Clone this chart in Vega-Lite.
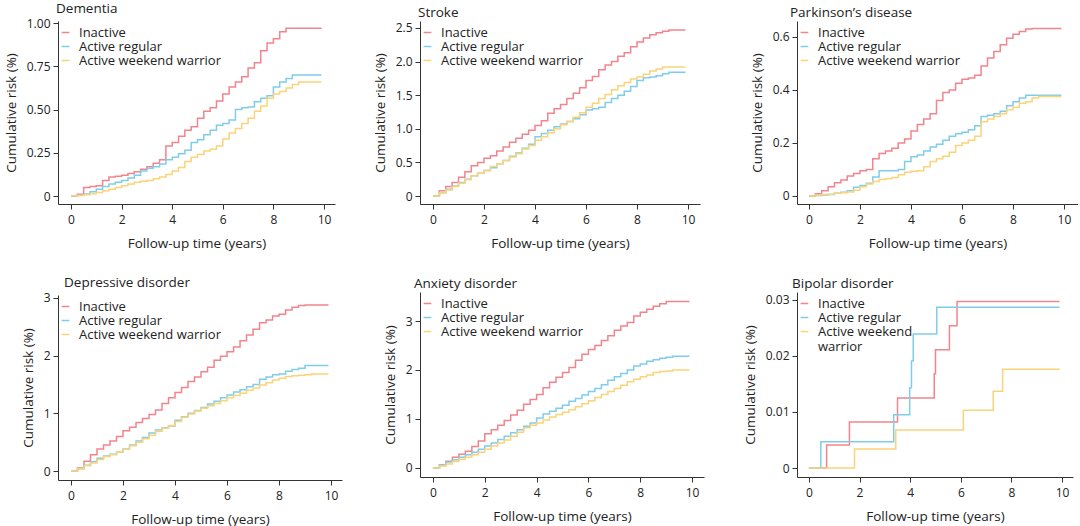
{
  "$schema": "https://vega.github.io/schema/vega-lite/v6.json",
  "padding": {"left": 4, "top": 1, "right": 0, "bottom": 0},
  "config": {
    "font": "Open Sans",
    "view": {"stroke": null},
    "axis": {"domainColor": "#333333", "tickColor": "#333333", "labelColor": "#222222", "titleColor": "#222222", "labelFontSize": 12, "titleFontSize": 13.5, "titleFontWeight": "normal", "grid": false, "tickSize": 5, "labelPadding": 3, "titlePadding": 8},
    "axisX": {"labelPadding": 5, "titlePadding": 11},
    "title": {"anchor": "start", "fontSize": 13.5, "fontWeight": "normal", "offset": 2, "frame": "group", "color": "#222222"},
    "legend": {"title": null, "orient": "none", "legendX": 1, "legendY": 5, "symbolType": "stroke", "symbolSize": 60, "symbolStrokeWidth": 1.6, "labelFontSize": 13, "labelColor": "#222222", "labelOffset": 7, "rowPadding": 0, "padding": 0},
    "line": {"interpolate": "step-after", "strokeWidth": 1.5}
  },
  "datasets": {
    "dementia": [
      {"t": 0, "Inactive": 0, "Active regular": 0, "Active weekend warrior": 0},
      {"t": 0.25, "Inactive": 0.01, "Active regular": 0.005, "Active weekend warrior": 0.003},
      {"t": 0.5, "Inactive": 0.05, "Active regular": 0.012, "Active weekend warrior": 0.008},
      {"t": 0.75, "Inactive": 0.055, "Active regular": 0.025, "Active weekend warrior": 0.013},
      {"t": 1.0, "Inactive": 0.06, "Active regular": 0.04, "Active weekend warrior": 0.02},
      {"t": 1.25, "Inactive": 0.09, "Active regular": 0.055, "Active weekend warrior": 0.03},
      {"t": 1.5, "Inactive": 0.11, "Active regular": 0.07, "Active weekend warrior": 0.04},
      {"t": 1.75, "Inactive": 0.115, "Active regular": 0.08, "Active weekend warrior": 0.05},
      {"t": 2.0, "Inactive": 0.12, "Active regular": 0.09, "Active weekend warrior": 0.06},
      {"t": 2.25, "Inactive": 0.13, "Active regular": 0.105, "Active weekend warrior": 0.07},
      {"t": 2.5, "Inactive": 0.14, "Active regular": 0.12, "Active weekend warrior": 0.08},
      {"t": 2.75, "Inactive": 0.155, "Active regular": 0.145, "Active weekend warrior": 0.085},
      {"t": 3.0, "Inactive": 0.17, "Active regular": 0.16, "Active weekend warrior": 0.09},
      {"t": 3.25, "Inactive": 0.19, "Active regular": 0.17, "Active weekend warrior": 0.1},
      {"t": 3.5, "Inactive": 0.21, "Active regular": 0.185, "Active weekend warrior": 0.11},
      {"t": 3.75, "Inactive": 0.29, "Active regular": 0.21, "Active weekend warrior": 0.125},
      {"t": 4.0, "Inactive": 0.31, "Active regular": 0.225, "Active weekend warrior": 0.145},
      {"t": 4.25, "Inactive": 0.345, "Active regular": 0.245, "Active weekend warrior": 0.165},
      {"t": 4.5, "Inactive": 0.38, "Active regular": 0.265, "Active weekend warrior": 0.2},
      {"t": 4.75, "Inactive": 0.4, "Active regular": 0.31, "Active weekend warrior": 0.225},
      {"t": 5.0, "Inactive": 0.45, "Active regular": 0.325, "Active weekend warrior": 0.24},
      {"t": 5.25, "Inactive": 0.49, "Active regular": 0.355, "Active weekend warrior": 0.26},
      {"t": 5.5, "Inactive": 0.51, "Active regular": 0.38, "Active weekend warrior": 0.27},
      {"t": 5.75, "Inactive": 0.55, "Active regular": 0.41, "Active weekend warrior": 0.29},
      {"t": 6.0, "Inactive": 0.59, "Active regular": 0.42, "Active weekend warrior": 0.33},
      {"t": 6.25, "Inactive": 0.63, "Active regular": 0.44, "Active weekend warrior": 0.365},
      {"t": 6.5, "Inactive": 0.66, "Active regular": 0.5, "Active weekend warrior": 0.39},
      {"t": 6.75, "Inactive": 0.69, "Active regular": 0.51, "Active weekend warrior": 0.42},
      {"t": 7.0, "Inactive": 0.74, "Active regular": 0.515, "Active weekend warrior": 0.45},
      {"t": 7.25, "Inactive": 0.77, "Active regular": 0.545, "Active weekend warrior": 0.49},
      {"t": 7.5, "Inactive": 0.84, "Active regular": 0.565, "Active weekend warrior": 0.52},
      {"t": 7.75, "Inactive": 0.885, "Active regular": 0.58, "Active weekend warrior": 0.565},
      {"t": 8.0, "Inactive": 0.91, "Active regular": 0.63, "Active weekend warrior": 0.59},
      {"t": 8.25, "Inactive": 0.95, "Active regular": 0.66, "Active weekend warrior": 0.605},
      {"t": 8.5, "Inactive": 0.97, "Active regular": 0.68, "Active weekend warrior": 0.625},
      {"t": 8.75, "Inactive": 0.97, "Active regular": 0.7, "Active weekend warrior": 0.645},
      {"t": 9.0, "Inactive": 0.97, "Active regular": 0.7, "Active weekend warrior": 0.66},
      {"t": 9.9, "Inactive": 0.97, "Active regular": 0.7, "Active weekend warrior": 0.66}
    ],
    "stroke": [
      {"t": 0, "Inactive": 0, "Active regular": 0, "Active weekend warrior": 0},
      {"t": 0.25, "Inactive": 0.08, "Active regular": 0.05, "Active weekend warrior": 0.05},
      {"t": 0.5, "Inactive": 0.14, "Active regular": 0.1, "Active weekend warrior": 0.09},
      {"t": 0.75, "Inactive": 0.2, "Active regular": 0.15, "Active weekend warrior": 0.14},
      {"t": 1.0, "Inactive": 0.28, "Active regular": 0.2, "Active weekend warrior": 0.19},
      {"t": 1.25, "Inactive": 0.36, "Active regular": 0.25, "Active weekend warrior": 0.24},
      {"t": 1.5, "Inactive": 0.45, "Active regular": 0.3, "Active weekend warrior": 0.3},
      {"t": 1.75, "Inactive": 0.5, "Active regular": 0.34, "Active weekend warrior": 0.34},
      {"t": 2.0, "Inactive": 0.56, "Active regular": 0.38, "Active weekend warrior": 0.38},
      {"t": 2.25, "Inactive": 0.6, "Active regular": 0.42, "Active weekend warrior": 0.44},
      {"t": 2.5, "Inactive": 0.67, "Active regular": 0.48, "Active weekend warrior": 0.48},
      {"t": 2.75, "Inactive": 0.73, "Active regular": 0.53, "Active weekend warrior": 0.53},
      {"t": 3.0, "Inactive": 0.8, "Active regular": 0.59, "Active weekend warrior": 0.58},
      {"t": 3.25, "Inactive": 0.86, "Active regular": 0.64, "Active weekend warrior": 0.63},
      {"t": 3.5, "Inactive": 0.92, "Active regular": 0.71, "Active weekend warrior": 0.7},
      {"t": 3.75, "Inactive": 0.98, "Active regular": 0.77, "Active weekend warrior": 0.75},
      {"t": 4.0, "Inactive": 1.05, "Active regular": 0.88, "Active weekend warrior": 0.83},
      {"t": 4.25, "Inactive": 1.12, "Active regular": 0.93, "Active weekend warrior": 0.88},
      {"t": 4.5, "Inactive": 1.23, "Active regular": 0.98, "Active weekend warrior": 0.94},
      {"t": 4.75, "Inactive": 1.3, "Active regular": 1.03, "Active weekend warrior": 1.0},
      {"t": 5.0, "Inactive": 1.36, "Active regular": 1.07, "Active weekend warrior": 1.06},
      {"t": 5.25, "Inactive": 1.45, "Active regular": 1.11, "Active weekend warrior": 1.11},
      {"t": 5.5, "Inactive": 1.53, "Active regular": 1.15, "Active weekend warrior": 1.17},
      {"t": 5.75, "Inactive": 1.61, "Active regular": 1.21, "Active weekend warrior": 1.24},
      {"t": 6.0, "Inactive": 1.72, "Active regular": 1.28, "Active weekend warrior": 1.32},
      {"t": 6.25, "Inactive": 1.78, "Active regular": 1.3, "Active weekend warrior": 1.38},
      {"t": 6.5, "Inactive": 1.88, "Active regular": 1.32, "Active weekend warrior": 1.45},
      {"t": 6.75, "Inactive": 1.95, "Active regular": 1.39, "Active weekend warrior": 1.51},
      {"t": 7.0, "Inactive": 2.0, "Active regular": 1.45, "Active weekend warrior": 1.58},
      {"t": 7.25, "Inactive": 2.08, "Active regular": 1.5, "Active weekend warrior": 1.64},
      {"t": 7.5, "Inactive": 2.13, "Active regular": 1.56, "Active weekend warrior": 1.69},
      {"t": 7.75, "Inactive": 2.22, "Active regular": 1.63, "Active weekend warrior": 1.74},
      {"t": 8.0, "Inactive": 2.29, "Active regular": 1.72, "Active weekend warrior": 1.77},
      {"t": 8.25, "Inactive": 2.35, "Active regular": 1.76, "Active weekend warrior": 1.81},
      {"t": 8.5, "Inactive": 2.4, "Active regular": 1.77, "Active weekend warrior": 1.86},
      {"t": 8.75, "Inactive": 2.43, "Active regular": 1.79, "Active weekend warrior": 1.89},
      {"t": 9.0, "Inactive": 2.45, "Active regular": 1.82, "Active weekend warrior": 1.92},
      {"t": 9.25, "Inactive": 2.47, "Active regular": 1.84, "Active weekend warrior": 1.92},
      {"t": 9.9, "Inactive": 2.47, "Active regular": 1.84, "Active weekend warrior": 1.92}
    ],
    "parkinson": [
      {"t": 0, "Inactive": 0, "Active regular": 0, "Active weekend warrior": 0},
      {"t": 0.25, "Inactive": 0.008, "Active regular": 0.002, "Active weekend warrior": 0.004},
      {"t": 0.5, "Inactive": 0.02, "Active regular": 0.004, "Active weekend warrior": 0.006},
      {"t": 0.75, "Inactive": 0.035, "Active regular": 0.006, "Active weekend warrior": 0.007},
      {"t": 1.0, "Inactive": 0.05, "Active regular": 0.01, "Active weekend warrior": 0.01},
      {"t": 1.25, "Inactive": 0.06, "Active regular": 0.014, "Active weekend warrior": 0.012},
      {"t": 1.5, "Inactive": 0.075, "Active regular": 0.02, "Active weekend warrior": 0.015},
      {"t": 1.75, "Inactive": 0.085, "Active regular": 0.033, "Active weekend warrior": 0.022},
      {"t": 2.0, "Inactive": 0.095, "Active regular": 0.04, "Active weekend warrior": 0.035},
      {"t": 2.25, "Inactive": 0.1, "Active regular": 0.048, "Active weekend warrior": 0.045},
      {"t": 2.5, "Inactive": 0.14, "Active regular": 0.072, "Active weekend warrior": 0.055},
      {"t": 2.75, "Inactive": 0.16, "Active regular": 0.095, "Active weekend warrior": 0.062},
      {"t": 3.0, "Inactive": 0.17, "Active regular": 0.095, "Active weekend warrior": 0.065},
      {"t": 3.25, "Inactive": 0.18, "Active regular": 0.095, "Active weekend warrior": 0.07},
      {"t": 3.5, "Inactive": 0.2, "Active regular": 0.1, "Active weekend warrior": 0.08},
      {"t": 3.75, "Inactive": 0.215, "Active regular": 0.13, "Active weekend warrior": 0.09},
      {"t": 4.0, "Inactive": 0.245, "Active regular": 0.148, "Active weekend warrior": 0.093},
      {"t": 4.25, "Inactive": 0.27, "Active regular": 0.155, "Active weekend warrior": 0.095},
      {"t": 4.5, "Inactive": 0.29, "Active regular": 0.17, "Active weekend warrior": 0.11},
      {"t": 4.75, "Inactive": 0.31, "Active regular": 0.185, "Active weekend warrior": 0.13},
      {"t": 5.0, "Inactive": 0.36, "Active regular": 0.195, "Active weekend warrior": 0.14},
      {"t": 5.25, "Inactive": 0.39, "Active regular": 0.21, "Active weekend warrior": 0.15},
      {"t": 5.5, "Inactive": 0.4, "Active regular": 0.225, "Active weekend warrior": 0.165},
      {"t": 5.75, "Inactive": 0.425, "Active regular": 0.235, "Active weekend warrior": 0.19},
      {"t": 6.0, "Inactive": 0.44, "Active regular": 0.24, "Active weekend warrior": 0.2},
      {"t": 6.25, "Inactive": 0.445, "Active regular": 0.25, "Active weekend warrior": 0.21},
      {"t": 6.5, "Inactive": 0.455, "Active regular": 0.265, "Active weekend warrior": 0.225},
      {"t": 6.75, "Inactive": 0.49, "Active regular": 0.3, "Active weekend warrior": 0.28},
      {"t": 7.0, "Inactive": 0.52, "Active regular": 0.305, "Active weekend warrior": 0.29},
      {"t": 7.25, "Inactive": 0.545, "Active regular": 0.31, "Active weekend warrior": 0.3},
      {"t": 7.5, "Inactive": 0.57, "Active regular": 0.32, "Active weekend warrior": 0.31},
      {"t": 7.75, "Inactive": 0.595, "Active regular": 0.34, "Active weekend warrior": 0.325},
      {"t": 8.0, "Inactive": 0.61, "Active regular": 0.355, "Active weekend warrior": 0.335},
      {"t": 8.25, "Inactive": 0.62, "Active regular": 0.37, "Active weekend warrior": 0.35},
      {"t": 8.5, "Inactive": 0.63, "Active regular": 0.38, "Active weekend warrior": 0.355},
      {"t": 8.75, "Inactive": 0.632, "Active regular": 0.38, "Active weekend warrior": 0.37},
      {"t": 9.0, "Inactive": 0.632, "Active regular": 0.38, "Active weekend warrior": 0.375},
      {"t": 9.9, "Inactive": 0.632, "Active regular": 0.38, "Active weekend warrior": 0.375}
    ],
    "depressive": [
      {"t": 0, "Inactive": 0, "Active regular": 0, "Active weekend warrior": 0},
      {"t": 0.25, "Inactive": 0.05, "Active regular": 0.04, "Active weekend warrior": 0.04},
      {"t": 0.5, "Inactive": 0.17, "Active regular": 0.1, "Active weekend warrior": 0.09},
      {"t": 0.75, "Inactive": 0.28, "Active regular": 0.16, "Active weekend warrior": 0.14},
      {"t": 1.0, "Inactive": 0.38, "Active regular": 0.22, "Active weekend warrior": 0.2},
      {"t": 1.25, "Inactive": 0.45, "Active regular": 0.26, "Active weekend warrior": 0.25},
      {"t": 1.5, "Inactive": 0.52, "Active regular": 0.29, "Active weekend warrior": 0.28},
      {"t": 1.75, "Inactive": 0.6, "Active regular": 0.33, "Active weekend warrior": 0.33},
      {"t": 2.0, "Inactive": 0.7, "Active regular": 0.38, "Active weekend warrior": 0.38},
      {"t": 2.25, "Inactive": 0.76, "Active regular": 0.45, "Active weekend warrior": 0.44},
      {"t": 2.5, "Inactive": 0.84, "Active regular": 0.52, "Active weekend warrior": 0.5},
      {"t": 2.75, "Inactive": 0.91, "Active regular": 0.58, "Active weekend warrior": 0.56},
      {"t": 3.0, "Inactive": 0.98, "Active regular": 0.66, "Active weekend warrior": 0.62},
      {"t": 3.25, "Inactive": 1.06, "Active regular": 0.71, "Active weekend warrior": 0.69},
      {"t": 3.5, "Inactive": 1.17, "Active regular": 0.75, "Active weekend warrior": 0.74},
      {"t": 3.75, "Inactive": 1.27, "Active regular": 0.78, "Active weekend warrior": 0.79},
      {"t": 4.0, "Inactive": 1.36, "Active regular": 0.88, "Active weekend warrior": 0.86},
      {"t": 4.25, "Inactive": 1.45, "Active regular": 0.94, "Active weekend warrior": 0.93},
      {"t": 4.5, "Inactive": 1.55, "Active regular": 1.0, "Active weekend warrior": 0.99},
      {"t": 4.75, "Inactive": 1.63, "Active regular": 1.05, "Active weekend warrior": 1.04},
      {"t": 5.0, "Inactive": 1.72, "Active regular": 1.1, "Active weekend warrior": 1.09},
      {"t": 5.25, "Inactive": 1.8, "Active regular": 1.16, "Active weekend warrior": 1.13},
      {"t": 5.5, "Inactive": 1.92, "Active regular": 1.21, "Active weekend warrior": 1.17},
      {"t": 5.75, "Inactive": 1.99, "Active regular": 1.27, "Active weekend warrior": 1.22},
      {"t": 6.0, "Inactive": 2.07, "Active regular": 1.32, "Active weekend warrior": 1.27},
      {"t": 6.25, "Inactive": 2.15, "Active regular": 1.37, "Active weekend warrior": 1.31},
      {"t": 6.5, "Inactive": 2.26, "Active regular": 1.41, "Active weekend warrior": 1.35},
      {"t": 6.75, "Inactive": 2.36, "Active regular": 1.46, "Active weekend warrior": 1.4},
      {"t": 7.0, "Inactive": 2.46, "Active regular": 1.5, "Active weekend warrior": 1.44},
      {"t": 7.25, "Inactive": 2.57, "Active regular": 1.59, "Active weekend warrior": 1.49},
      {"t": 7.5, "Inactive": 2.62, "Active regular": 1.63, "Active weekend warrior": 1.53},
      {"t": 7.75, "Inactive": 2.69, "Active regular": 1.67, "Active weekend warrior": 1.58},
      {"t": 8.0, "Inactive": 2.72, "Active regular": 1.68, "Active weekend warrior": 1.61},
      {"t": 8.25, "Inactive": 2.79, "Active regular": 1.73, "Active weekend warrior": 1.64},
      {"t": 8.5, "Inactive": 2.84, "Active regular": 1.76, "Active weekend warrior": 1.65},
      {"t": 8.75, "Inactive": 2.87, "Active regular": 1.78, "Active weekend warrior": 1.66},
      {"t": 9.0, "Inactive": 2.88, "Active regular": 1.83, "Active weekend warrior": 1.67},
      {"t": 9.25, "Inactive": 2.88, "Active regular": 1.83, "Active weekend warrior": 1.68},
      {"t": 9.9, "Inactive": 2.88, "Active regular": 1.83, "Active weekend warrior": 1.68}
    ],
    "anxiety": [
      {"t": 0, "Inactive": 0, "Active regular": 0, "Active weekend warrior": 0},
      {"t": 0.25, "Inactive": 0.06, "Active regular": 0.06, "Active weekend warrior": 0.04},
      {"t": 0.5, "Inactive": 0.14, "Active regular": 0.12, "Active weekend warrior": 0.08},
      {"t": 0.75, "Inactive": 0.22, "Active regular": 0.17, "Active weekend warrior": 0.13},
      {"t": 1.0, "Inactive": 0.28, "Active regular": 0.22, "Active weekend warrior": 0.18},
      {"t": 1.25, "Inactive": 0.34, "Active regular": 0.27, "Active weekend warrior": 0.22},
      {"t": 1.5, "Inactive": 0.44, "Active regular": 0.32, "Active weekend warrior": 0.27},
      {"t": 1.75, "Inactive": 0.55, "Active regular": 0.38, "Active weekend warrior": 0.32},
      {"t": 2.0, "Inactive": 0.7, "Active regular": 0.45, "Active weekend warrior": 0.38},
      {"t": 2.25, "Inactive": 0.78, "Active regular": 0.51, "Active weekend warrior": 0.45},
      {"t": 2.5, "Inactive": 0.87, "Active regular": 0.58, "Active weekend warrior": 0.51},
      {"t": 2.75, "Inactive": 0.97, "Active regular": 0.65, "Active weekend warrior": 0.57},
      {"t": 3.0, "Inactive": 1.08, "Active regular": 0.72, "Active weekend warrior": 0.65},
      {"t": 3.25, "Inactive": 1.18, "Active regular": 0.78, "Active weekend warrior": 0.73},
      {"t": 3.5, "Inactive": 1.3, "Active regular": 0.85, "Active weekend warrior": 0.82},
      {"t": 3.75, "Inactive": 1.4, "Active regular": 0.92, "Active weekend warrior": 0.87},
      {"t": 4.0, "Inactive": 1.5, "Active regular": 1.02, "Active weekend warrior": 0.92},
      {"t": 4.25, "Inactive": 1.64, "Active regular": 1.1, "Active weekend warrior": 0.98},
      {"t": 4.5, "Inactive": 1.75, "Active regular": 1.16, "Active weekend warrior": 1.04},
      {"t": 4.75, "Inactive": 1.85, "Active regular": 1.22, "Active weekend warrior": 1.09},
      {"t": 5.0, "Inactive": 1.95, "Active regular": 1.28, "Active weekend warrior": 1.14},
      {"t": 5.25, "Inactive": 2.05, "Active regular": 1.36, "Active weekend warrior": 1.19},
      {"t": 5.5, "Inactive": 2.2, "Active regular": 1.42, "Active weekend warrior": 1.25},
      {"t": 5.75, "Inactive": 2.32, "Active regular": 1.49, "Active weekend warrior": 1.31},
      {"t": 6.0, "Inactive": 2.42, "Active regular": 1.56, "Active weekend warrior": 1.37},
      {"t": 6.25, "Inactive": 2.5, "Active regular": 1.62, "Active weekend warrior": 1.44},
      {"t": 6.5, "Inactive": 2.6, "Active regular": 1.7, "Active weekend warrior": 1.5},
      {"t": 6.75, "Inactive": 2.7, "Active regular": 1.79, "Active weekend warrior": 1.56},
      {"t": 7.0, "Inactive": 2.81, "Active regular": 1.86, "Active weekend warrior": 1.62},
      {"t": 7.25, "Inactive": 2.9, "Active regular": 1.93, "Active weekend warrior": 1.69},
      {"t": 7.5, "Inactive": 2.97, "Active regular": 2.0, "Active weekend warrior": 1.76},
      {"t": 7.75, "Inactive": 3.1, "Active regular": 2.08, "Active weekend warrior": 1.81},
      {"t": 8.0, "Inactive": 3.18, "Active regular": 2.12, "Active weekend warrior": 1.86},
      {"t": 8.25, "Inactive": 3.24, "Active regular": 2.18, "Active weekend warrior": 1.9},
      {"t": 8.5, "Inactive": 3.3, "Active regular": 2.21, "Active weekend warrior": 1.95},
      {"t": 8.75, "Inactive": 3.35, "Active regular": 2.24, "Active weekend warrior": 1.97},
      {"t": 9.0, "Inactive": 3.4, "Active regular": 2.26, "Active weekend warrior": 1.98},
      {"t": 9.25, "Inactive": 3.4, "Active regular": 2.28, "Active weekend warrior": 2.0},
      {"t": 9.9, "Inactive": 3.4, "Active regular": 2.28, "Active weekend warrior": 2.0}
    ],
    "bipolar": [
      {"group": "Inactive", "t": 0, "risk": 0},
      {"group": "Inactive", "t": 0.7, "risk": 0.0041},
      {"group": "Inactive", "t": 1.6, "risk": 0.0082},
      {"group": "Inactive", "t": 3.5, "risk": 0.0125},
      {"group": "Inactive", "t": 4.95, "risk": 0.0168},
      {"group": "Inactive", "t": 5.0, "risk": 0.0211},
      {"group": "Inactive", "t": 5.55, "risk": 0.0254},
      {"group": "Inactive", "t": 5.85, "risk": 0.0297},
      {"group": "Inactive", "t": 9.9, "risk": 0.0297},
      {"group": "Active regular", "t": 0, "risk": 0},
      {"group": "Active regular", "t": 0.47, "risk": 0.0047},
      {"group": "Active regular", "t": 3.35, "risk": 0.0095},
      {"group": "Active regular", "t": 3.98, "risk": 0.0143},
      {"group": "Active regular", "t": 4.05, "risk": 0.0191},
      {"group": "Active regular", "t": 4.12, "risk": 0.0239},
      {"group": "Active regular", "t": 5.05, "risk": 0.0287},
      {"group": "Active regular", "t": 9.9, "risk": 0.0287},
      {"group": "Active weekend warrior", "t": 0, "risk": 0},
      {"group": "Active weekend warrior", "t": 1.8, "risk": 0.0034},
      {"group": "Active weekend warrior", "t": 3.43, "risk": 0.0068},
      {"group": "Active weekend warrior", "t": 6.1, "risk": 0.0103},
      {"group": "Active weekend warrior", "t": 7.28, "risk": 0.0137},
      {"group": "Active weekend warrior", "t": 7.65, "risk": 0.0176},
      {"group": "Active weekend warrior", "t": 9.9, "risk": 0.0176}
    ]
  },
  "resolve": {"scale": {"x": "independent", "y": "independent"}, "legend": {"color": "independent"}},
  "spacing": 39,
  "hconcat": [
    {
      "resolve": {"scale": {"x": "independent", "y": "independent"}, "legend": {"color": "independent"}},
      "spacing": 31,
      "hconcat": [
        {
          "resolve": {"scale": {"x": "independent", "y": "independent"}, "legend": {"color": "independent"}},
          "spacing": 26,
          "vconcat": [
            {
              "title": {"text": "Dementia", "dx": -2},
              "width": 277, "height": 183,
              "data": {"name": "dementia"},
              "transform": [{"fold": ["Inactive", "Active regular", "Active weekend warrior"], "as": ["group", "risk"]}],
              "mark": {"type": "line"},
              "encoding": {
                "x": {"field": "t", "type": "quantitative", "scale": {"domain": [-0.514, 10.435], "nice": false, "zero": false}, "axis": {"values": [0, 2, 4, 6, 8, 10], "title": "Follow-up time (years)"}},
                "y": {"field": "risk", "type": "quantitative", "scale": {"domain": [-0.046, 1.012], "nice": false, "zero": false}, "axis": {"values": [0, 0.25, 0.5, 0.75, 1], "labelExpr": "datum.value == 0 ? '0' : format(datum.value, '.2f')", "title": "Cumulative risk (%)"}},
                "color": {"field": "group", "type": "nominal", "sort": ["Inactive", "Active regular", "Active weekend warrior"], "scale": {"domain": ["Inactive", "Active regular", "Active weekend warrior"], "range": ["#f2848d", "#7fcdea", "#fad37a"]}, "legend": {}}
              }
            },
            {
              "title": {"text": "Depressive disorder", "dx": 6},
              "width": 284, "height": 185,
              "data": {"name": "depressive"},
              "transform": [{"fold": ["Inactive", "Active regular", "Active weekend warrior"], "as": ["group", "risk"]}],
              "mark": {"type": "line"},
              "encoding": {
                "x": {"field": "t", "type": "quantitative", "scale": {"domain": [-0.5, 10.42], "nice": false, "zero": false}, "axis": {"values": [0, 2, 4, 6, 8, 10], "title": "Follow-up time (years)"}},
                "y": {"field": "risk", "type": "quantitative", "scale": {"domain": [-0.156, 3.052], "nice": false, "zero": false}, "axis": {"values": [0, 1, 2, 3], "title": "Cumulative risk (%)"}},
                "color": {"field": "group", "type": "nominal", "sort": ["Inactive", "Active regular", "Active weekend warrior"], "scale": {"domain": ["Inactive", "Active regular", "Active weekend warrior"], "range": ["#f2848d", "#7fcdea", "#fad37a"]}, "legend": {}}
              }
            }
          ]
        },
        {
          "resolve": {"scale": {"x": "independent", "y": "independent"}, "legend": {"color": "independent"}},
          "spacing": 26,
          "vconcat": [
            {
              "title": {"text": "Stroke", "dx": -2},
              "width": 280, "height": 183,
              "data": {"name": "stroke"},
              "transform": [{"fold": ["Inactive", "Active regular", "Active weekend warrior"], "as": ["group", "risk"]}],
              "mark": {"type": "line"},
              "encoding": {
                "x": {"field": "t", "type": "quantitative", "scale": {"domain": [-0.51, 10.47], "nice": false, "zero": false}, "axis": {"values": [0, 2, 4, 6, 8, 10], "title": "Follow-up time (years)"}},
                "y": {"field": "risk", "type": "quantitative", "scale": {"domain": [-0.119, 2.604], "nice": false, "zero": false}, "axis": {"values": [0, 0.5, 1, 1.5, 2, 2.5], "labelExpr": "datum.value == 0 ? '0' : format(datum.value, '.1f')", "title": "Cumulative risk (%)"}},
                "color": {"field": "group", "type": "nominal", "sort": ["Inactive", "Active regular", "Active weekend warrior"], "scale": {"domain": ["Inactive", "Active regular", "Active weekend warrior"], "range": ["#f2848d", "#7fcdea", "#fad37a"]}, "legend": {}}
              }
            },
            {
              "title": {"text": "Anxiety disorder", "dx": -6},
              "width": 284, "height": 185,
              "data": {"name": "anxiety"},
              "transform": [{"fold": ["Inactive", "Active regular", "Active weekend warrior"], "as": ["group", "risk"]}],
              "mark": {"type": "line"},
              "encoding": {
                "x": {"field": "t", "type": "quantitative", "scale": {"domain": [-0.5, 10.46], "nice": false, "zero": false}, "axis": {"values": [0, 2, 4, 6, 8, 10], "title": "Follow-up time (years)"}},
                "y": {"field": "risk", "type": "quantitative", "scale": {"domain": [-0.184, 3.592], "nice": false, "zero": false}, "axis": {"values": [0, 1, 2, 3], "title": "Cumulative risk (%)"}},
                "color": {"field": "group", "type": "nominal", "sort": ["Inactive", "Active regular", "Active weekend warrior"], "scale": {"domain": ["Inactive", "Active regular", "Active weekend warrior"], "range": ["#f2848d", "#7fcdea", "#fad37a"]}, "legend": {}}
              }
            }
          ]
        }
      ]
    },
    {
      "resolve": {"scale": {"x": "independent", "y": "independent"}, "legend": {"color": "independent"}},
      "spacing": 26,
      "vconcat": [
        {
          "title": {"text": "Parkinson’s disease", "dx": -7},
          "width": 281, "height": 183,
          "data": {"name": "parkinson"},
          "transform": [{"fold": ["Inactive", "Active regular", "Active weekend warrior"], "as": ["group", "risk"]}],
          "mark": {"type": "line"},
          "encoding": {
            "x": {"field": "t", "type": "quantitative", "scale": {"domain": [-0.47, 10.55], "nice": false, "zero": false}, "axis": {"values": [0, 2, 4, 6, 8, 10], "title": "Follow-up time (years)"}},
            "y": {"field": "risk", "type": "quantitative", "scale": {"domain": [-0.0302, 0.66], "nice": false, "zero": false}, "axis": {"values": [0, 0.2, 0.4, 0.6], "labelExpr": "datum.value == 0 ? '0' : format(datum.value, '.1f')", "title": "Cumulative risk (%)"}},
            "color": {"field": "group", "type": "nominal", "sort": ["Inactive", "Active regular", "Active weekend warrior"], "scale": {"domain": ["Inactive", "Active regular", "Active weekend warrior"], "range": ["#f2848d", "#7fcdea", "#fad37a"]}, "legend": {}}
          }
        },
        {
          "title": {"text": "Bipolar disorder", "dx": -5},
          "width": 276, "height": 185,
          "data": {"name": "bipolar"},
          "mark": {"type": "line"},
          "encoding": {
            "x": {"field": "t", "type": "quantitative", "scale": {"domain": [-0.47, 10.43], "nice": false, "zero": false}, "axis": {"values": [0, 2, 4, 6, 8, 10], "title": "Follow-up time (years)"}},
            "y": {"field": "risk", "type": "quantitative", "scale": {"domain": [-0.0016, 0.0314], "nice": false, "zero": false}, "axis": {"values": [0, 0.01, 0.02, 0.03], "labelExpr": "datum.value == 0 ? '0' : format(datum.value, '.2f')", "title": "Cumulative risk (%)"}},
            "color": {"field": "group", "type": "nominal", "sort": ["Inactive", "Active regular", "Active weekend warrior"], "scale": {"domain": ["Inactive", "Active regular", "Active weekend warrior"], "range": ["#f2848d", "#7fcdea", "#fad37a"]}, "legend": {"labelExpr": "datum.label == 'Active weekend warrior' ? ['Active weekend', 'warrior'] : datum.label"}}
          }
        }
      ]
    }
  ]
}
